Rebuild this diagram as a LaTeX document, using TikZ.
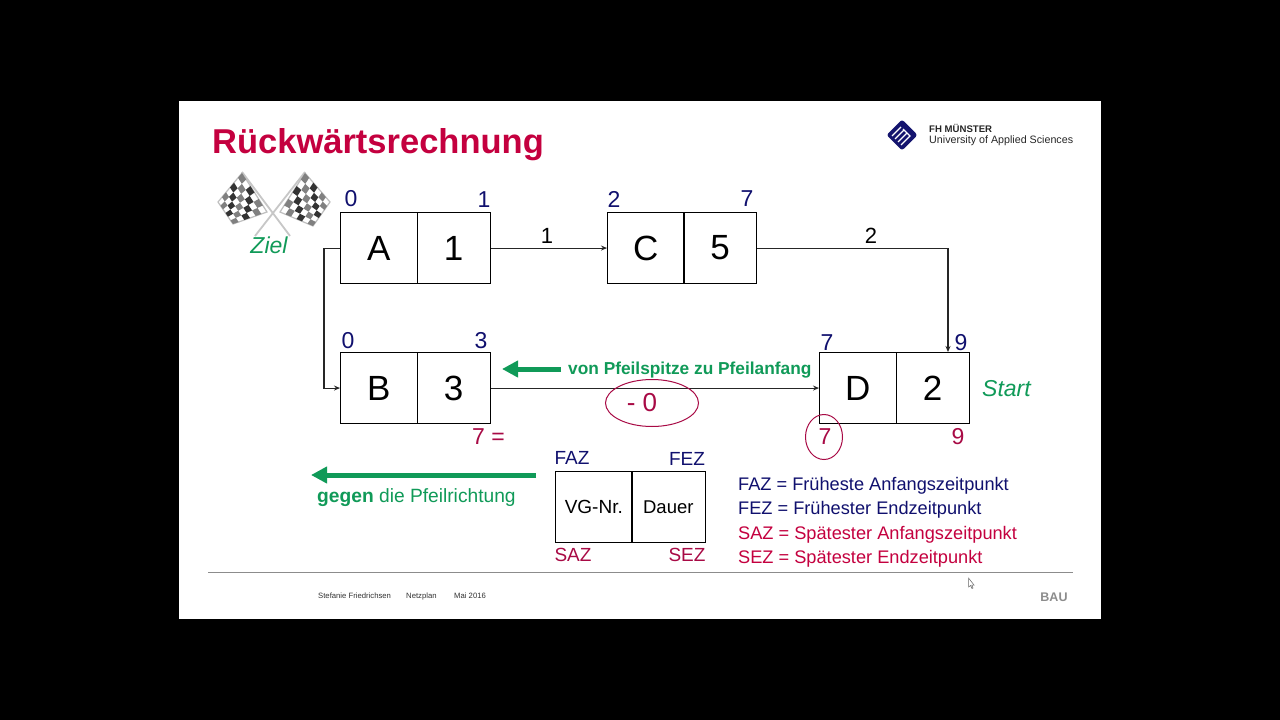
\documentclass[tikz,border=0pt]{standalone}
\usepackage{fontspec}
\setmainfont{Liberation Sans}
\usetikzlibrary{arrows.meta,calc}
\definecolor{crim}{HTML}{C4003F}
\definecolor{wine}{HTML}{A80A45}
\definecolor{navy}{HTML}{10106E}
\definecolor{grn}{HTML}{109A58}
\definecolor{logoblue}{HTML}{14146E}
\tikzset{
 x=1pt,y=-1pt,
 cell/.style={draw=black,line width=1.1pt,anchor=north west,inner sep=0pt,minimum height=71pt,font=\fontsize{35}{35}\selectfont,text=black},
 lcell/.style={cell,minimum width=76.5pt},
 rcell/.style={cell,minimum width=73pt},
 conn/.style={line width=1.1pt,draw=black!85,-{Stealth[length=6pt,width=5pt]}},
 early/.style={text=navy,font=\fontsize{23}{23}\selectfont,inner sep=0pt},
 late/.style={text=wine,font=\fontsize{23}{23}\selectfont,inner sep=0pt},
 lbl/.style={font=\fontsize{22}{22}\selectfont,inner sep=0pt,text=black},
 keyn/.style={text=navy,font=\fontsize{19}{19}\selectfont,inner sep=0pt},
 keyw/.style={text=wine,font=\fontsize{19}{19}\selectfont,inner sep=0pt},
 legitem/.style={anchor=west,inner sep=0pt,font=\fontsize{18.2}{18.2}\selectfont},
 bigarrow/.style={draw=grn,line width=5pt,-{Triangle[length=16pt,width=16pt]}},
 grntext/.style={text=grn,inner sep=0pt},
 foot/.style={inner sep=0pt,anchor=base west,text=black!80,font=\fontsize{7.7}{7.7}\selectfont},
}
\newcommand{\flagpt}[2]{%
 \pgfmathsetmacro{\px}{(1-#1)*(1-#2)*\xa+#1*(1-#2)*\xb+#1*#2*\xc+(1-#1)*#2*\xd}%
 \pgfmathsetmacro{\py}{(1-#1)*(1-#2)*\ya+#1*(1-#2)*\yb+#1*#2*\yc+(1-#1)*#2*\yd}}
\newcommand{\myflag}[8]{%
 \def\xa{#1}\def\ya{#2}\def\xb{#3}\def\yb{#4}\def\xc{#5}\def\yc{#6}\def\xd{#7}\def\yd{#8}%
 \fill[white,draw=black!25,line width=1.2pt] (#1,#2)--(#3,#4)--(#5,#6)--(#7,#8)--cycle;
 \foreach \i in {0,...,5}{\foreach \j in {0,...,5}{%
   \pgfmathtruncatemacro{\t}{mod(\i+\j,2)}%
   \ifnum\t=0
    \pgfmathsetmacro{\ua}{\i/6}\pgfmathsetmacro{\ub}{(\i+1)/6}%
    \pgfmathsetmacro{\va}{\j/6}\pgfmathsetmacro{\vb}{(\j+1)/6}%
    \pgfmathtruncatemacro{\shade}{50+mod(\i*3+\j*5,4)*15}%
    \flagpt{\ua}{\va}\edef\pa{(\px,\py)}%
    \flagpt{\ub}{\va}\edef\pb{(\px,\py)}%
    \flagpt{\ub}{\vb}\edef\pc{(\px,\py)}%
    \flagpt{\ua}{\vb}\edef\pd{(\px,\py)}%
    \fill[black!\shade] \pa--\pb--\pc--\pd--cycle;
   \fi}}}
\begin{document}
\begin{tikzpicture}
\useasboundingbox (0,0) rectangle (1280,720);
\fill[black] (0,0) rectangle (1280,720);
\fill[white] (179,101) rectangle (1101,619);
% title
\node[anchor=west,inner sep=0pt,text=crim,font=\fontsize{34.5}{34.5}\selectfont\bfseries] (title) at (212,145) {Rückwärtsrechnung};
% logo
\begin{scope}[shift={(902,135)}]
 \fill[logoblue,rounded corners=2.5pt] (-15.5,0)--(0,-15.5)--(15.5,0)--(0,15.5)--cycle;
 \draw[white,line width=1.3pt] (-10,1)--(-1,-8) (-7,4)--(2,-5) (-4,7)--(5,-2);
 \draw[white,line width=1.3pt] (-1,10)--(8,1)--(1,-6);
\end{scope}
\node[anchor=west,inner sep=0pt,text=black!85,font=\fontsize{9.6}{9.6}\selectfont\bfseries] (fh) at (929,128.5) {FH MÜNSTER};
\node[anchor=west,inner sep=0pt,text=black!85,font=\fontsize{10.7}{10.7}\selectfont] (uas) at (929,141) {University of Applied Sciences};
% flags
\draw[black!22,line width=1.8pt] (242,172)--(290,236) (305,172)--(255,236);
\myflag{242}{173}{218}{202}{233}{224}{267}{212}
\myflag{305}{173}{330}{202}{313}{226}{280}{212}
\node[grntext,font=\fontsize{23}{23}\selectfont\itshape] (ziel) at (269,245) {Ziel};
% boxes
\node[lcell] (A) at (340,212) {A};
\node[rcell] (A1) at (416.5,212) {1};
\node[lcell] (C) at (607,212) {C};
\node[rcell] (C5) at (683,212) {5};
\node[lcell] (B) at (340,352) {B};
\node[rcell] (B3) at (416.5,352) {3};
\node[lcell] (D) at (819,352) {D};
\node[rcell] (D2) at (895.5,352) {2};
\coordinate (dtop) at (948,352);
\coordinate (loopx) at (324,300);
% connectors
\draw[conn] (A1.east) -- (C.west);
\draw[conn] (C5.east) -| (dtop);
\draw[conn] (A.west) -| (loopx) |- (B.west);
\draw[conn] (B3.east) -- (D.west);
% corner numbers
\node[early] (n1) at (351,199) {0};
\node[early] (n2) at (484,200) {1};
\node[early] (n3) at (614,199) {2};
\node[early] (n4) at (747,199) {7};
\node[early] (n5) at (348,341) {0};
\node[early] (n6) at (481,341) {3};
\node[early] (n7) at (827,343) {7};
\node[early] (n8) at (961,343) {9};
\node[lbl] (l1) at (547,236) {1};
\node[lbl] (l2) at (871,236) {2};
% green
\coordinate (ga1) at (561,369);
\coordinate (ga2) at (502,369);
\draw[bigarrow] (ga1) -- (ga2);
\node[grntext,anchor=west,font=\fontsize{17.3}{17.3}\selectfont\bfseries] (von) at (568,370.5) {von Pfeilspitze zu Pfeilanfang};
\node[grntext,font=\fontsize{23}{23}\selectfont\itshape,anchor=west] (start) at (982,388.5) {Start};
% red
\draw[wine,line width=1pt] (652,403) ellipse [x radius=46.5,y radius=23.5];
\node[late,font=\fontsize{26}{26}\selectfont] (m0) at (642,403) {- 0};
\node[late,anchor=west] (s7) at (472,437) {7 =};
\draw[wine,line width=1pt] (824,437) ellipse [x radius=18.5,y radius=22.5];
\node[late] (d7) at (825,437) {7};
\node[late] (d9) at (958,437) {9};
% legend arrow
\coordinate (gb1) at (536,475);
\coordinate (gb2) at (311,475);
\draw[bigarrow] (gb1) -- (gb2);
\node[grntext,anchor=west,font=\fontsize{19.2}{19.2}\selectfont] (gegen) at (317,498) {\textbf{gegen} die Pfeilrichtung};
% legend box
\node[cell,minimum width=76.5pt,font=\fontsize{19}{19}\selectfont] (vg) at (555,471) {VG-Nr.};
\node[cell,minimum width=73.5pt,font=\fontsize{18.5}{18.5}\selectfont] (dauer) at (631,471) {Dauer};
\node[keyn] (faz) at (572,458) {FAZ};
\node[keyn] (fez) at (687,459) {FEZ};
\node[keyw] (saz) at (573,555) {SAZ};
\node[keyw] (sez) at (687,555) {SEZ};
% legend text
\node[legitem,text=navy] (t1) at (738,486) {FAZ = Früheste Anfangszeitpunkt};
\node[legitem,text=navy] (t2) at (738,510) {FEZ = Frühester Endzeitpunkt};
\node[legitem,text=crim] (t3) at (738,535) {SAZ = Spätester Anfangszeitpunkt};
\node[legitem,text=crim] (t4) at (738,559) {SEZ = Spätester Endzeitpunkt};
% footer
\draw[black!45,line width=0.8pt] (208,572.5) -- (1073,572.5);
\node[foot] (f1) at (318,598.5) {Stefanie Friedrichsen};
\node[foot] (f2) at (406,598.5) {Netzplan};
\node[foot] (f3) at (454,598.5) {Mai 2016};
\node[inner sep=0pt,text=black!45,font=\fontsize{12.5}{12.5}\selectfont\bfseries] (bau) at (1054,597) {BAU};
% cursor
\draw[black!60,fill=white,line width=0.5pt] (968.5,578)--(968.5,587)--(970.5,585.5)--(972,588.5)--(973,588)--(971.7,585)--(974,585)--cycle;
\end{tikzpicture}
\end{document}
